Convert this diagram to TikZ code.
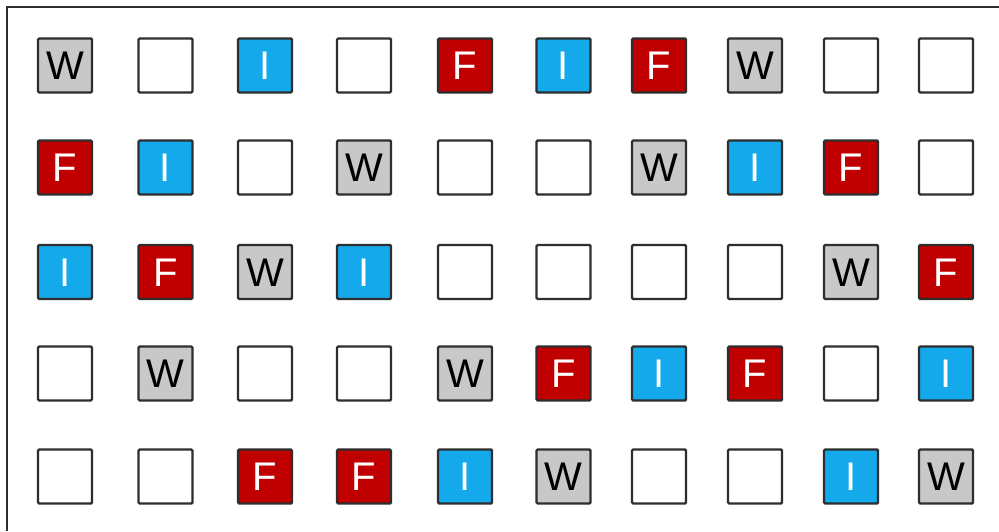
\documentclass[tikz,border=0pt]{standalone}
\usepackage{fontspec}
\setmainfont{Liberation Sans}
\definecolor{wgray}{HTML}{C8C8C8}
\definecolor{fred}{HTML}{C00000}
\definecolor{iblue}{HTML}{14A9EA}
\definecolor{edge}{HTML}{2E2E2E}
\tikzset{
  cellbase/.style={draw=edge, line width=2.4pt, rounded corners=1.2pt, minimum size=54pt, inner sep=0pt,
    text height=28.6pt, text depth=0pt, font=\fontsize{40}{40}\selectfont},
  cellW/.style={cellbase, fill=wgray, text=black},
  cellF/.style={cellbase, fill=fred, text=white},
  cellI/.style={cellbase, fill=iblue, text=white},
  cellE/.style={cellbase, fill=white},
}
\def\labW{W}\def\labF{F}\def\labI{I}\def\labE{}
\begin{document}
\begin{tikzpicture}[x=1pt,y=1pt]
\useasboundingbox (0,0) rectangle (999,531);
\fill[white] (0,0) rectangle (999,531);
\draw[edge, line width=2.2pt] (7,0) -- (7,524) -- (999,524);
\foreach [count=\r] \yy/\row in {
  65.5/{W,E,I,E,F,I,F,W,E,E},
  167.5/{F,I,E,W,E,E,W,I,F,E},
  272/{I,F,W,I,E,E,E,E,W,F},
  373.5/{E,W,E,E,W,F,I,F,E,I},
  476.5/{E,E,F,F,I,W,E,E,I,W}} {
  \foreach [count=\c] \t in \row {
    \pgfmathsetmacro\xx{{65,165.5,265,364,465,563.5,659,755,851,946}[\c-1]}
    \node[cell\t] (c\r-\c) at (\xx, 531-\yy) {\csname lab\t\endcsname};
  }
}
\end{tikzpicture}
\end{document}
